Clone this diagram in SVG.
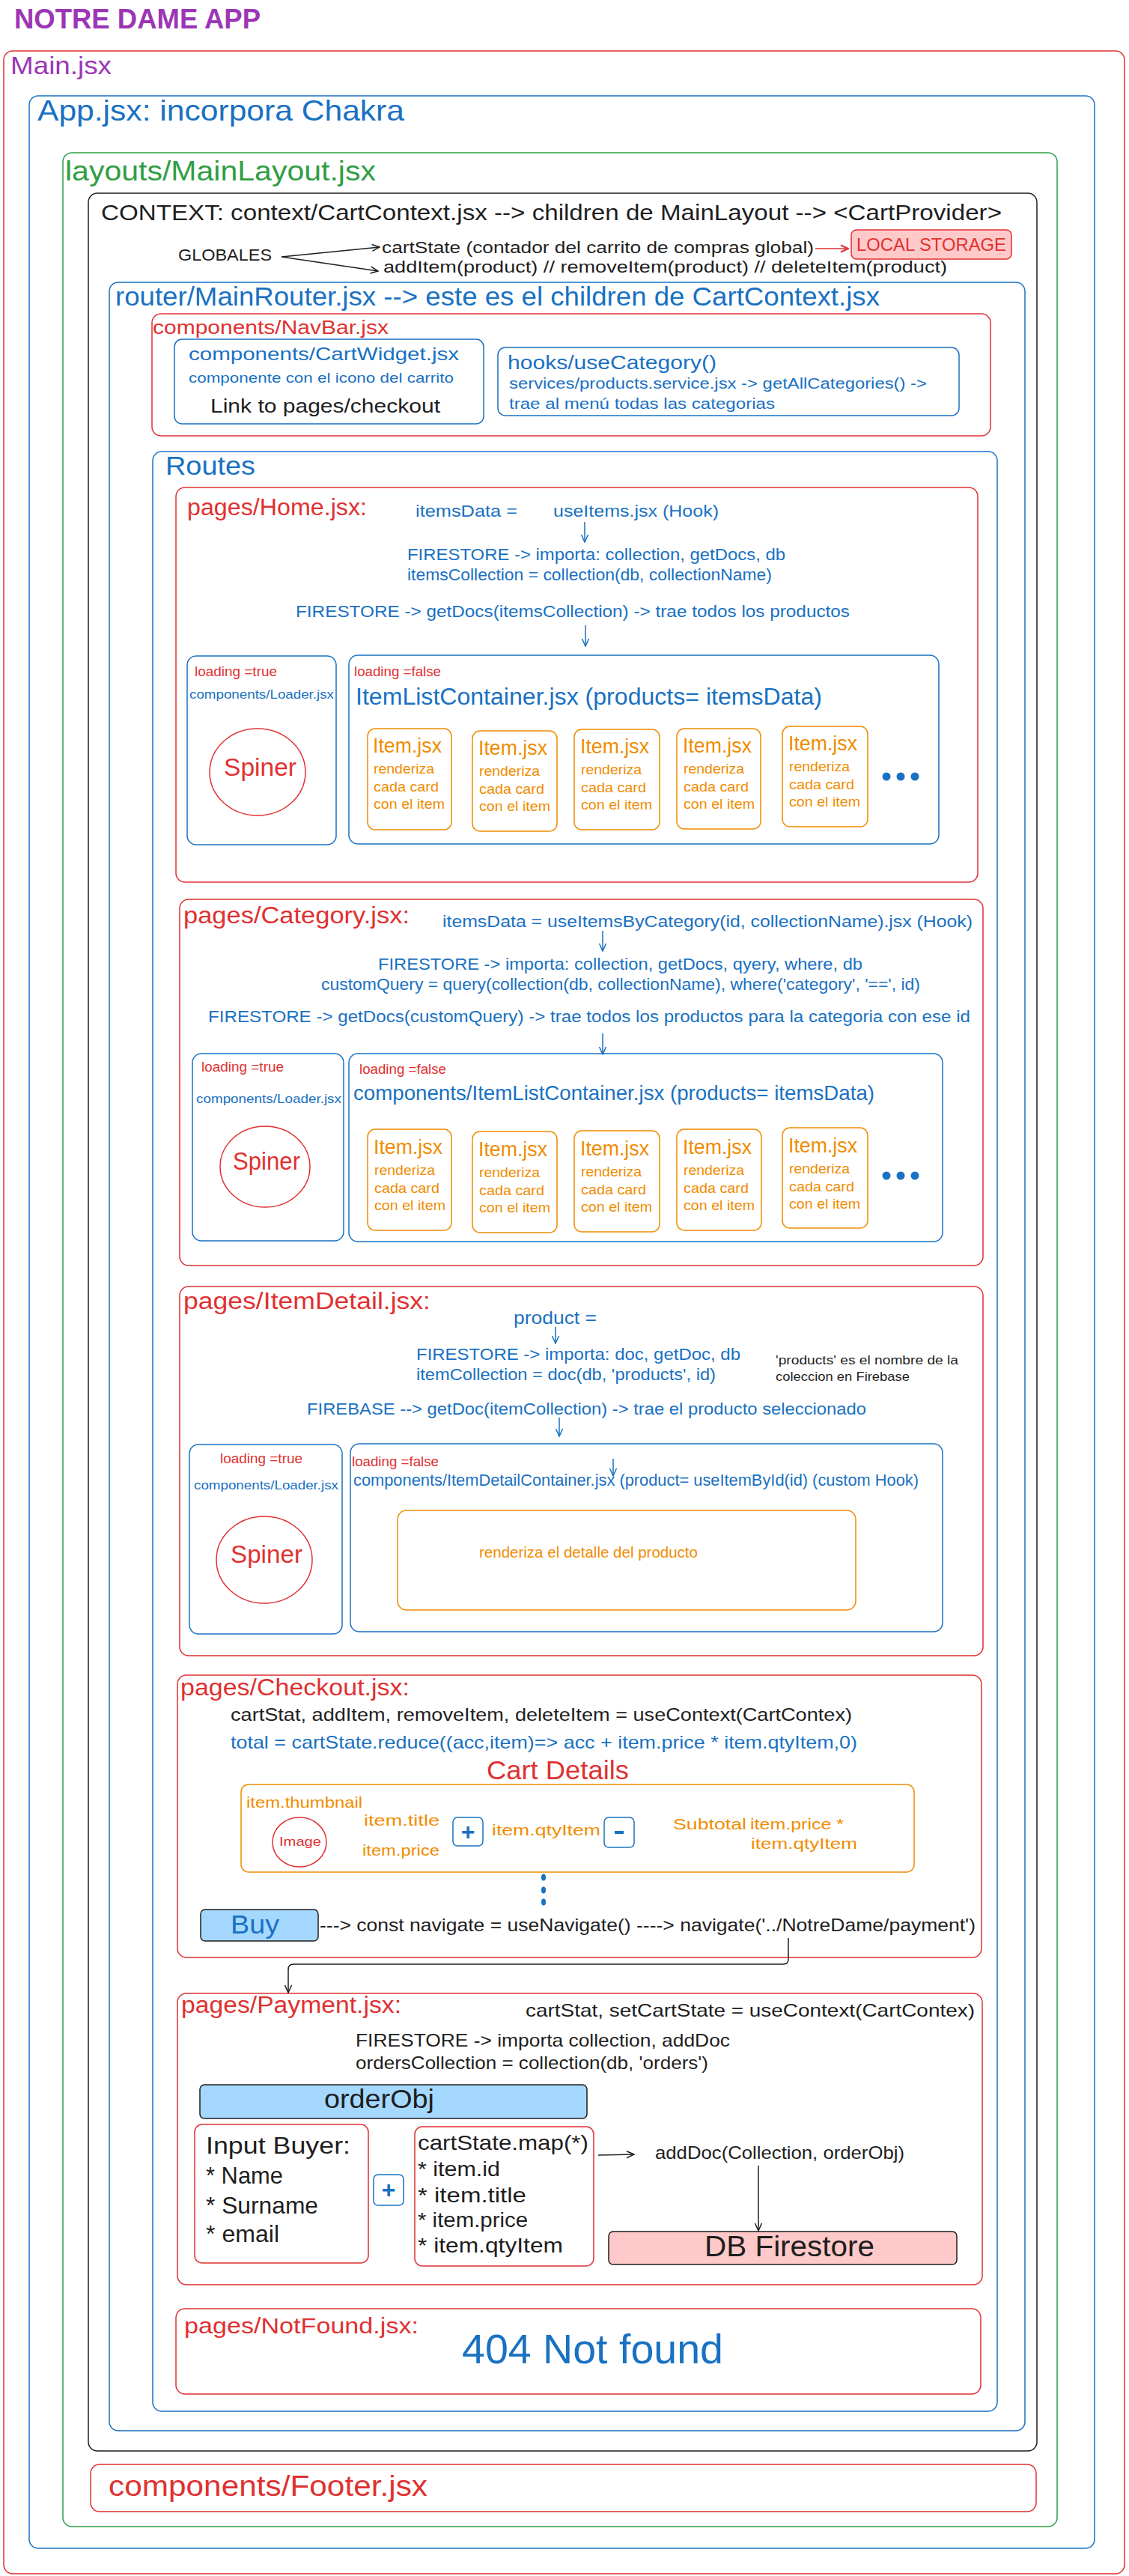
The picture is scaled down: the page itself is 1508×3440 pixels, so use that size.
<svg xmlns="http://www.w3.org/2000/svg" width="1508" height="3440" viewBox="0 0 1508 3440">
<style>
text{font-family:"Liberation Sans",Arial,sans-serif;}
.b{fill:none;stroke-width:1.5;}
.r{stroke:#e03131;}
.u{stroke:#1971c2;}
.g{stroke:#2f9e44;}
.k{stroke:#1e1e1e;}
.o{stroke:#f08c00;}
.fr{fill:#e03131;}
.fu{fill:#1971c2;}
.fg{fill:#2f9e44;}
.fp{fill:#9c36b5;}
.fk{fill:#1e1e1e;}
.fo{fill:#f08c00;}
.ln{fill:none;stroke-width:1.5;}
.lb{fill:#a5d8ff;stroke:#1e1e1e;stroke-width:1.5;}
.lr{fill:#ffc9c9;stroke-width:1.5;}
</style>
<defs>
<marker id="ak" viewBox="0 0 12 12" refX="11" refY="6" markerWidth="12" markerHeight="12" markerUnits="userSpaceOnUse" orient="auto"><path d="M1 1.5 L11 6 L1 10.5" fill="none" stroke="#1e1e1e" stroke-width="1.5"/></marker>
<marker id="au" viewBox="0 0 12 12" refX="11" refY="6" markerWidth="12" markerHeight="12" markerUnits="userSpaceOnUse" orient="auto"><path d="M1 1.5 L11 6 L1 10.5" fill="none" stroke="#1971c2" stroke-width="1.5"/></marker>
<marker id="ar" viewBox="0 0 12 12" refX="11" refY="6" markerWidth="12" markerHeight="12" markerUnits="userSpaceOnUse" orient="auto"><path d="M1 1.5 L11 6 L1 10.5" fill="none" stroke="#e03131" stroke-width="2"/></marker>
</defs>
<rect width="1508" height="3440" fill="#ffffff"/>

<text x="19" y="38" font-size="36" font-weight="bold" class="fp" textLength="329" lengthAdjust="spacingAndGlyphs">NOTRE DAME APP</text>

<g id="main">
<rect class="b r" x="5" y="68" width="1497" height="3369" rx="12"/>
<text x="14" y="99" font-size="33" class="fp" textLength="135" lengthAdjust="spacingAndGlyphs">Main.jsx</text>
</g>

<g id="app">
<rect class="b u" x="39" y="128" width="1423" height="3275" rx="12"/>
<text x="50" y="161" font-size="39" class="fu" textLength="490" lengthAdjust="spacingAndGlyphs">App.jsx:  incorpora Chakra</text>
</g>

<g id="mainlayout">
<rect class="b g" x="84" y="204" width="1328" height="3170" rx="12"/>
<text x="87" y="241" font-size="37" class="fg" textLength="415" lengthAdjust="spacingAndGlyphs">layouts/MainLayout.jsx</text>
</g>

<g id="context">
<rect class="b k" x="118" y="258" width="1267" height="3015" rx="12"/>
<text x="135" y="294" font-size="30" class="fk" textLength="1203" lengthAdjust="spacingAndGlyphs">CONTEXT: context/CartContext.jsx --&gt; children de MainLayout --&gt; &lt;CartProvider&gt;</text>
</g>

<g id="globales">
<text x="238" y="348" font-size="22" class="fk" textLength="125" lengthAdjust="spacingAndGlyphs">GLOBALES</text>
</g>
<g id="cartstate">
<text x="510" y="338" font-size="22" class="fk" textLength="577" lengthAdjust="spacingAndGlyphs">cartState (contador del carrito de compras global)</text>
</g>
<g id="additem">
<text x="512" y="364" font-size="22" class="fk" textLength="753" lengthAdjust="spacingAndGlyphs">addItem(product)  // removeItem(product) // deleteItem(product)</text>
</g>
<g id="localstorage">
<rect class="lr r" x="1137" y="307" width="214" height="39" rx="7" stroke-width="2"/>
<text x="1144" y="335" font-size="24" class="fr" textLength="200" lengthAdjust="spacingAndGlyphs">LOCAL STORAGE</text>
</g>

<g id="router">
<rect class="b u" x="146" y="377" width="1223" height="2869" rx="12"/>
<text x="154" y="408" font-size="35" class="fu" textLength="1021" lengthAdjust="spacingAndGlyphs">router/MainRouter.jsx  --&gt; este es el children de CartContext.jsx</text>
</g>

<g id="navbar">
<rect class="b r" x="203" y="419" width="1120" height="163" rx="12"/>
<text x="204" y="446" font-size="26" class="fr" textLength="315" lengthAdjust="spacingAndGlyphs">components/NavBar.jsx</text>
</g>
<g id="cartwidget">
<rect class="b u" x="233" y="453" width="413" height="113" rx="10" stroke-width="2"/>
<text x="252" y="481" font-size="24" class="fu" textLength="361" lengthAdjust="spacingAndGlyphs">components/CartWidget.jsx</text>
<text x="252" y="511" font-size="19" class="fu" textLength="354" lengthAdjust="spacingAndGlyphs">componente con el icono del carrito</text>
<text x="281" y="551" font-size="26" class="fk" textLength="307" lengthAdjust="spacingAndGlyphs">Link to pages/checkout</text>
</g>
<g id="usecategory">
<rect class="b u" x="665" y="464" width="616" height="91" rx="10" stroke-width="2"/>
<text x="678" y="493" font-size="26" class="fu" textLength="279" lengthAdjust="spacingAndGlyphs">hooks/useCategory()</text>
<text x="680" y="519" font-size="20" class="fu" textLength="558" lengthAdjust="spacingAndGlyphs">services/products.service.jsx -&gt; getAllCategories() -&gt;</text>
<text x="680" y="546" font-size="20" class="fu" textLength="355" lengthAdjust="spacingAndGlyphs">trae al menú todas las categorias</text>
</g>

<g id="routes">
<rect class="b u" x="204" y="603" width="1128" height="2617" rx="12"/>
<text x="221" y="634" font-size="35" class="fu" textLength="120" lengthAdjust="spacingAndGlyphs">Routes</text>
</g>

<!-- HOME -->
<g id="home">
<rect class="b r" x="235" y="651" width="1071" height="527" rx="12"/>
<text x="250" y="688" font-size="31" class="fr" textLength="240" lengthAdjust="spacingAndGlyphs">pages/Home.jsx:</text>
<text x="555" y="690" font-size="22" class="fu" textLength="136" lengthAdjust="spacingAndGlyphs">itemsData =</text>
<text x="739" y="690" font-size="22" class="fu" textLength="221" lengthAdjust="spacingAndGlyphs">useItems.jsx (Hook)</text>
<text x="544" y="748" font-size="22" class="fu" textLength="505" lengthAdjust="spacingAndGlyphs">FIRESTORE -&gt; importa: collection, getDocs, db</text>
<text x="544" y="775" font-size="22" class="fu" textLength="487" lengthAdjust="spacingAndGlyphs">itemsCollection = collection(db, collectionName)</text>
<text x="395" y="824" font-size="22" class="fu" textLength="740" lengthAdjust="spacingAndGlyphs">FIRESTORE -&gt; getDocs(itemsCollection) -&gt; trae todos los productos</text>
</g>
<g id="home-loader">
<rect class="b u" x="250" y="876" width="199" height="252" rx="12"/>
<text x="260" y="903" font-size="18" class="fr" textLength="110" lengthAdjust="spacingAndGlyphs">loading =true</text>
<text x="253" y="933" font-size="17" class="fu" textLength="193" lengthAdjust="spacingAndGlyphs">components/Loader.jsx</text>
<ellipse class="b r" cx="344" cy="1031" rx="64" ry="58"/>
<text x="299" y="1036" font-size="33" class="fr" textLength="97" lengthAdjust="spacingAndGlyphs">Spiner</text>
</g>
<g id="home-itemlist">
<rect class="b u" x="466" y="875" width="788" height="252" rx="12"/>
<text x="473" y="903" font-size="18" class="fr" textLength="116" lengthAdjust="spacingAndGlyphs">loading =false</text>
<text x="475" y="941" font-size="31" class="fu" textLength="623" lengthAdjust="spacingAndGlyphs">ItemListContainer.jsx (products= itemsData)</text>
<circle cx="1184" cy="1037" r="5.5" class="fu"/>
<circle cx="1203" cy="1037" r="5.5" class="fu"/>
<circle cx="1222" cy="1037" r="5.5" class="fu"/>
</g>
<g id="home-item1"><rect class="b o" x="491" y="973" width="112" height="135" rx="10"/>
<text x="498" y="1005" font-size="27" class="fo" textLength="92" lengthAdjust="spacingAndGlyphs">Item.jsx</text>
<text x="499" y="1033" font-size="19" class="fo" textLength="81" lengthAdjust="spacingAndGlyphs">renderiza</text>
<text x="499" y="1057" font-size="19" class="fo" textLength="87" lengthAdjust="spacingAndGlyphs">cada card</text>
<text x="499" y="1080" font-size="19" class="fo" textLength="95" lengthAdjust="spacingAndGlyphs">con el item</text></g>
<g id="home-item2"><rect class="b o" x="631" y="976" width="113" height="134" rx="10"/>
<text x="639" y="1008" font-size="27" class="fo" textLength="92" lengthAdjust="spacingAndGlyphs">Item.jsx</text>
<text x="640" y="1036" font-size="19" class="fo" textLength="81" lengthAdjust="spacingAndGlyphs">renderiza</text>
<text x="640" y="1060" font-size="19" class="fo" textLength="87" lengthAdjust="spacingAndGlyphs">cada card</text>
<text x="640" y="1083" font-size="19" class="fo" textLength="95" lengthAdjust="spacingAndGlyphs">con el item</text></g>
<g id="home-item3"><rect class="b o" x="767" y="974" width="114" height="134" rx="10"/>
<text x="775" y="1006" font-size="27" class="fo" textLength="92" lengthAdjust="spacingAndGlyphs">Item.jsx</text>
<text x="776" y="1034" font-size="19" class="fo" textLength="81" lengthAdjust="spacingAndGlyphs">renderiza</text>
<text x="776" y="1058" font-size="19" class="fo" textLength="87" lengthAdjust="spacingAndGlyphs">cada card</text>
<text x="776" y="1081" font-size="19" class="fo" textLength="95" lengthAdjust="spacingAndGlyphs">con el item</text></g>
<g id="home-item4"><rect class="b o" x="904" y="973" width="112" height="134" rx="10"/>
<text x="912" y="1005" font-size="27" class="fo" textLength="92" lengthAdjust="spacingAndGlyphs">Item.jsx</text>
<text x="913" y="1033" font-size="19" class="fo" textLength="81" lengthAdjust="spacingAndGlyphs">renderiza</text>
<text x="913" y="1057" font-size="19" class="fo" textLength="87" lengthAdjust="spacingAndGlyphs">cada card</text>
<text x="913" y="1080" font-size="19" class="fo" textLength="95" lengthAdjust="spacingAndGlyphs">con el item</text></g>
<g id="home-item5"><rect class="b o" x="1045" y="970" width="114" height="134" rx="10"/>
<text x="1053" y="1002" font-size="27" class="fo" textLength="92" lengthAdjust="spacingAndGlyphs">Item.jsx</text>
<text x="1054" y="1030" font-size="19" class="fo" textLength="81" lengthAdjust="spacingAndGlyphs">renderiza</text>
<text x="1054" y="1054" font-size="19" class="fo" textLength="87" lengthAdjust="spacingAndGlyphs">cada card</text>
<text x="1054" y="1077" font-size="19" class="fo" textLength="95" lengthAdjust="spacingAndGlyphs">con el item</text></g>

<!-- CATEGORY -->
<g id="category">
<rect class="b r" x="240" y="1201" width="1073" height="489" rx="12"/>
<text x="245" y="1233" font-size="31" class="fr" textLength="302" lengthAdjust="spacingAndGlyphs">pages/Category.jsx:</text>
<text x="591" y="1238" font-size="22" class="fu" textLength="708" lengthAdjust="spacingAndGlyphs">itemsData = useItemsByCategory(id, collectionName).jsx (Hook)</text>
<text x="505" y="1295" font-size="22" class="fu" textLength="647" lengthAdjust="spacingAndGlyphs">FIRESTORE -&gt; importa: collection, getDocs, qyery, where, db</text>
<text x="429" y="1322" font-size="22" class="fu" textLength="800" lengthAdjust="spacingAndGlyphs">customQuery = query(collection(db, collectionName), where('category', '==', id)</text>
<text x="278" y="1365" font-size="22" class="fu" textLength="1018" lengthAdjust="spacingAndGlyphs">FIRESTORE -&gt; getDocs(customQuery) -&gt; trae todos los productos para la categoria con ese id</text>
</g>
<g id="cat-loader">
<rect class="b u" x="257" y="1407" width="202" height="250" rx="12"/>
<text x="269" y="1431" font-size="18" class="fr" textLength="110" lengthAdjust="spacingAndGlyphs">loading =true</text>
<text x="262" y="1473" font-size="17" class="fu" textLength="194" lengthAdjust="spacingAndGlyphs">components/Loader.jsx</text>
<ellipse class="b r" cx="354" cy="1558" rx="60" ry="54"/>
<text x="311" y="1562" font-size="33" class="fr" textLength="90" lengthAdjust="spacingAndGlyphs">Spiner</text>
</g>
<g id="cat-itemlist">
<rect class="b u" x="466" y="1407" width="793" height="251" rx="12"/>
<text x="480" y="1434" font-size="18" class="fr" textLength="116" lengthAdjust="spacingAndGlyphs">loading =false</text>
<text x="472" y="1469" font-size="28" class="fu" textLength="696" lengthAdjust="spacingAndGlyphs">components/ItemListContainer.jsx (products= itemsData)</text>
<circle cx="1184" cy="1570" r="5.5" class="fu"/>
<circle cx="1203" cy="1570" r="5.5" class="fu"/>
<circle cx="1222" cy="1570" r="5.5" class="fu"/>
</g>
<g id="cat-item1"><rect class="b o" x="491" y="1508" width="112" height="135" rx="10"/>
<text x="499" y="1541" font-size="27" class="fo" textLength="92" lengthAdjust="spacingAndGlyphs">Item.jsx</text>
<text x="500" y="1569" font-size="19" class="fo" textLength="81" lengthAdjust="spacingAndGlyphs">renderiza</text>
<text x="500" y="1593" font-size="19" class="fo" textLength="87" lengthAdjust="spacingAndGlyphs">cada card</text>
<text x="500" y="1616" font-size="19" class="fo" textLength="95" lengthAdjust="spacingAndGlyphs">con el item</text></g>
<g id="cat-item2"><rect class="b o" x="631" y="1511" width="113" height="135" rx="10"/>
<text x="639" y="1544" font-size="27" class="fo" textLength="92" lengthAdjust="spacingAndGlyphs">Item.jsx</text>
<text x="640" y="1572" font-size="19" class="fo" textLength="81" lengthAdjust="spacingAndGlyphs">renderiza</text>
<text x="640" y="1596" font-size="19" class="fo" textLength="87" lengthAdjust="spacingAndGlyphs">cada card</text>
<text x="640" y="1619" font-size="19" class="fo" textLength="95" lengthAdjust="spacingAndGlyphs">con el item</text></g>
<g id="cat-item3"><rect class="b o" x="767" y="1510" width="114" height="135" rx="10"/>
<text x="775" y="1543" font-size="27" class="fo" textLength="92" lengthAdjust="spacingAndGlyphs">Item.jsx</text>
<text x="776" y="1571" font-size="19" class="fo" textLength="81" lengthAdjust="spacingAndGlyphs">renderiza</text>
<text x="776" y="1595" font-size="19" class="fo" textLength="87" lengthAdjust="spacingAndGlyphs">cada card</text>
<text x="776" y="1618" font-size="19" class="fo" textLength="95" lengthAdjust="spacingAndGlyphs">con el item</text></g>
<g id="cat-item4"><rect class="b o" x="904" y="1508" width="113" height="135" rx="10"/>
<text x="912" y="1541" font-size="27" class="fo" textLength="92" lengthAdjust="spacingAndGlyphs">Item.jsx</text>
<text x="913" y="1569" font-size="19" class="fo" textLength="81" lengthAdjust="spacingAndGlyphs">renderiza</text>
<text x="913" y="1593" font-size="19" class="fo" textLength="87" lengthAdjust="spacingAndGlyphs">cada card</text>
<text x="913" y="1616" font-size="19" class="fo" textLength="95" lengthAdjust="spacingAndGlyphs">con el item</text></g>
<g id="cat-item5"><rect class="b o" x="1045" y="1506" width="114" height="134" rx="10"/>
<text x="1053" y="1539" font-size="27" class="fo" textLength="92" lengthAdjust="spacingAndGlyphs">Item.jsx</text>
<text x="1054" y="1567" font-size="19" class="fo" textLength="81" lengthAdjust="spacingAndGlyphs">renderiza</text>
<text x="1054" y="1591" font-size="19" class="fo" textLength="87" lengthAdjust="spacingAndGlyphs">cada card</text>
<text x="1054" y="1614" font-size="19" class="fo" textLength="95" lengthAdjust="spacingAndGlyphs">con el item</text></g>

<!-- ITEM DETAIL -->
<g id="itemdetail">
<rect class="b r" x="240" y="1718" width="1073" height="493" rx="12"/>
<text x="245" y="1748" font-size="31" class="fr" textLength="330" lengthAdjust="spacingAndGlyphs">pages/ItemDetail.jsx:</text>
<text x="686" y="1768" font-size="24" class="fu" textLength="111" lengthAdjust="spacingAndGlyphs">product =</text>
<text x="556" y="1816" font-size="22" class="fu" textLength="433" lengthAdjust="spacingAndGlyphs">FIRESTORE -&gt; importa: doc, getDoc, db</text>
<text x="556" y="1843" font-size="22" class="fu" textLength="400" lengthAdjust="spacingAndGlyphs">itemCollection = doc(db, 'products', id)</text>
<text x="1036" y="1822" font-size="17" class="fk" textLength="244" lengthAdjust="spacingAndGlyphs">'products' es el nombre de la</text>
<text x="1036" y="1844" font-size="17" class="fk" textLength="179" lengthAdjust="spacingAndGlyphs">coleccion en Firebase</text>
<text x="410" y="1889" font-size="22" class="fu" textLength="747" lengthAdjust="spacingAndGlyphs">FIREBASE --&gt; getDoc(itemCollection) -&gt; trae el producto seleccionado</text>
</g>
<g id="detail-loader">
<rect class="b u" x="253" y="1929" width="204" height="253" rx="12"/>
<text x="294" y="1954" font-size="18" class="fr" textLength="110" lengthAdjust="spacingAndGlyphs">loading =true</text>
<text x="259" y="1989" font-size="17" class="fu" textLength="193" lengthAdjust="spacingAndGlyphs">components/Loader.jsx</text>
<ellipse class="b r" cx="353" cy="2083" rx="64" ry="58"/>
<text x="308" y="2087" font-size="33" class="fr" textLength="96" lengthAdjust="spacingAndGlyphs">Spiner</text>
</g>
<g id="detail-container">
<rect class="b u" x="468" y="1928" width="791" height="251" rx="12"/>
<text x="470" y="1958" font-size="18" class="fr" textLength="116" lengthAdjust="spacingAndGlyphs">loading =false</text>
<text x="472" y="1984" font-size="22" class="fu" textLength="755" lengthAdjust="spacingAndGlyphs">components/ItemDetailContainer.jsx (product= useItemById(id) (custom Hook)</text>
</g>
<g id="detail-render">
<rect class="b o" x="531" y="2017" width="612" height="133" rx="12"/>
<text x="640" y="2080" font-size="21" class="fo" textLength="292" lengthAdjust="spacingAndGlyphs">renderiza el detalle del producto</text>
</g>

<!-- CHECKOUT -->
<g id="checkout">
<rect class="b r" x="237" y="2237" width="1074" height="377" rx="12"/>
<text x="241" y="2264" font-size="31" class="fr" textLength="306" lengthAdjust="spacingAndGlyphs">pages/Checkout.jsx:</text>
<text x="308" y="2298" font-size="24" class="fk" textLength="830" lengthAdjust="spacingAndGlyphs">cartStat, addItem, removeItem, deleteItem = useContext(CartContex)</text>
<text x="308" y="2335" font-size="24" class="fu" textLength="837" lengthAdjust="spacingAndGlyphs">total = cartState.reduce((acc,item)=&gt; acc + item.price * item.qtyItem,0)</text>
<text x="650" y="2376" font-size="35" class="fr" textLength="190" lengthAdjust="spacingAndGlyphs">Cart Details</text>
<ellipse cx="726" cy="2507" rx="3" ry="4.5" class="fu"/>
<ellipse cx="726" cy="2524" rx="3" ry="4.5" class="fu"/>
<ellipse cx="726" cy="2540" rx="3" ry="4.5" class="fu"/>
<text x="427" y="2579" font-size="24" class="fk" textLength="876" lengthAdjust="spacingAndGlyphs">---&gt; const navigate = useNavigate() ----&gt; navigate('../NotreDame/payment')</text>
</g>
<g id="cartdetails">
<rect class="b o" x="322" y="2383" width="899" height="117" rx="10"/>
<text x="329" y="2414" font-size="21" class="fo" textLength="155" lengthAdjust="spacingAndGlyphs">item.thumbnail</text>
<ellipse class="b r" cx="400" cy="2460" rx="36" ry="33"/>
<text x="373" y="2465" font-size="17" class="fr" textLength="56" lengthAdjust="spacingAndGlyphs">Image</text>
<text x="486" y="2438" font-size="21" class="fo" textLength="101" lengthAdjust="spacingAndGlyphs">item.title</text>
<text x="484" y="2478" font-size="21" class="fo" textLength="103" lengthAdjust="spacingAndGlyphs">item.price</text>
<rect class="b u" x="605" y="2427" width="40" height="38" rx="6" stroke-width="2"/>
<text x="625" y="2457" font-size="32" font-weight="bold" class="fu" text-anchor="middle">+</text>
<text x="657" y="2451" font-size="21" class="fo" textLength="145" lengthAdjust="spacingAndGlyphs">item.qtyItem</text>
<rect class="b u" x="807" y="2427" width="40" height="40" rx="6" stroke-width="2"/>
<rect x="821" y="2445" width="12" height="4" class="fu"/>
<text x="899" y="2443" font-size="21" class="fo" textLength="98" lengthAdjust="spacingAndGlyphs">Subtotal</text>
<text x="1002" y="2443" font-size="21" class="fo" textLength="125" lengthAdjust="spacingAndGlyphs">item.price *</text>
<text x="1003" y="2469" font-size="21" class="fo" textLength="142" lengthAdjust="spacingAndGlyphs">item.qtyItem</text>
</g>
<g id="buy">
<rect class="lb" x="268" y="2550" width="157" height="42" rx="6"/>
<text x="308" y="2582" font-size="35" class="fu" textLength="65" lengthAdjust="spacingAndGlyphs">Buy</text>
</g>

<!-- PAYMENT -->
<g id="payment">
<rect class="b r" x="237" y="2662" width="1075" height="389" rx="12"/>
<text x="242" y="2688" font-size="31" class="fr" textLength="294" lengthAdjust="spacingAndGlyphs">pages/Payment.jsx:</text>
<text x="702" y="2693" font-size="24" class="fk" textLength="600" lengthAdjust="spacingAndGlyphs">cartStat, setCartState = useContext(CartContex)</text>
<text x="475" y="2733" font-size="24" class="fk" textLength="500" lengthAdjust="spacingAndGlyphs">FIRESTORE -&gt; importa collection, addDoc</text>
<text x="475" y="2763" font-size="24" class="fk" textLength="471" lengthAdjust="spacingAndGlyphs">ordersCollection = collection(db, 'orders')</text>
<text x="875" y="2883" font-size="24" class="fk" textLength="333" lengthAdjust="spacingAndGlyphs">addDoc(Collection, orderObj)</text>
</g>
<g id="orderobj">
<rect class="lb" x="267" y="2784" width="517" height="45" rx="6"/>
<text x="433" y="2815" font-size="35" class="fk" textLength="147" lengthAdjust="spacingAndGlyphs">orderObj</text>
</g>
<g id="inputbuyer">
<rect class="b r" x="260" y="2837" width="232" height="185" rx="10"/>
<text x="275" y="2876" font-size="32" class="fk" textLength="193" lengthAdjust="spacingAndGlyphs">Input Buyer:</text>
<text x="275" y="2916" font-size="32" class="fk" textLength="103" lengthAdjust="spacingAndGlyphs">* Name</text>
<text x="275" y="2956" font-size="32" class="fk" textLength="150" lengthAdjust="spacingAndGlyphs">* Surname</text>
<text x="275" y="2994" font-size="32" class="fk" textLength="98" lengthAdjust="spacingAndGlyphs">* email</text>
</g>
<g id="plus">
<rect class="b u" x="499" y="2904" width="40" height="41" rx="6" stroke-width="2"/>
<text x="519" y="2935" font-size="32" font-weight="bold" class="fu" text-anchor="middle">+</text>
</g>
<g id="cartmap">
<rect class="b r" x="554" y="2840" width="239" height="186" rx="10"/>
<text x="558" y="2871" font-size="28" class="fk" textLength="228" lengthAdjust="spacingAndGlyphs">cartState.map(*)</text>
<text x="558" y="2906" font-size="28" class="fk" textLength="110" lengthAdjust="spacingAndGlyphs">* item.id</text>
<text x="558" y="2941" font-size="28" class="fk" textLength="145" lengthAdjust="spacingAndGlyphs">* item.title</text>
<text x="558" y="2974" font-size="28" class="fk" textLength="147" lengthAdjust="spacingAndGlyphs">* item.price</text>
<text x="558" y="3008" font-size="28" class="fk" textLength="194" lengthAdjust="spacingAndGlyphs">* item.qtyItem</text>
</g>
<g id="dbfirestore">
<rect class="lr k" x="813" y="2980" width="465" height="44" rx="6"/>
<text x="941" y="3013" font-size="39" class="fk" textLength="227" lengthAdjust="spacingAndGlyphs">DB Firestore</text>
</g>

<!-- NOT FOUND -->
<g id="notfound">
<rect class="b r" x="235" y="3083" width="1075" height="114" rx="12"/>
<text x="246" y="3116" font-size="29" class="fr" textLength="313" lengthAdjust="spacingAndGlyphs">pages/NotFound.jsx:</text>
<text x="617" y="3156" font-size="56" class="fu" textLength="349" lengthAdjust="spacingAndGlyphs">404 Not found</text>
</g>

<!-- FOOTER -->
<g id="footer">
<rect class="b r" x="121" y="3291" width="1263" height="63" rx="12"/>
<text x="145" y="3333" font-size="39" class="fr" textLength="426" lengthAdjust="spacingAndGlyphs">components/Footer.jsx</text>
</g>

<g id="connectors">
<line class="ln k" x1="376" y1="343" x2="507" y2="330" marker-end="url(#ak)"/>
<line class="ln k" x1="376" y1="343" x2="505" y2="362" marker-end="url(#ak)"/>
<line class="ln r" x1="1089" y1="332" x2="1133" y2="332" stroke-width="2" marker-end="url(#ar)"/>
<line class="ln u" x1="781" y1="697" x2="781" y2="724" marker-end="url(#au)"/>
<line class="ln u" x1="782" y1="835" x2="782" y2="863" marker-end="url(#au)"/>
<line class="ln u" x1="805" y1="1243" x2="805" y2="1270" marker-end="url(#au)"/>
<line class="ln u" x1="805" y1="1380" x2="805" y2="1408" marker-end="url(#au)"/>
<line class="ln u" x1="742" y1="1772" x2="742" y2="1794" marker-end="url(#au)"/>
<line class="ln u" x1="747" y1="1893" x2="747" y2="1918" marker-end="url(#au)"/>
<line class="ln u" x1="819" y1="1948" x2="819" y2="1971" marker-end="url(#au)"/>
<path class="ln k" d="M1053 2588 L1053 2616 Q1053 2623 1046 2623 L392 2623 Q385 2623 385 2630 L385 2661" marker-end="url(#ak)"/>
<line class="ln k" x1="799" y1="2878" x2="847" y2="2877" marker-end="url(#ak)"/>
<line class="ln k" x1="1013" y1="2892" x2="1013" y2="2979" marker-end="url(#ak)"/>
</g>
</svg>
